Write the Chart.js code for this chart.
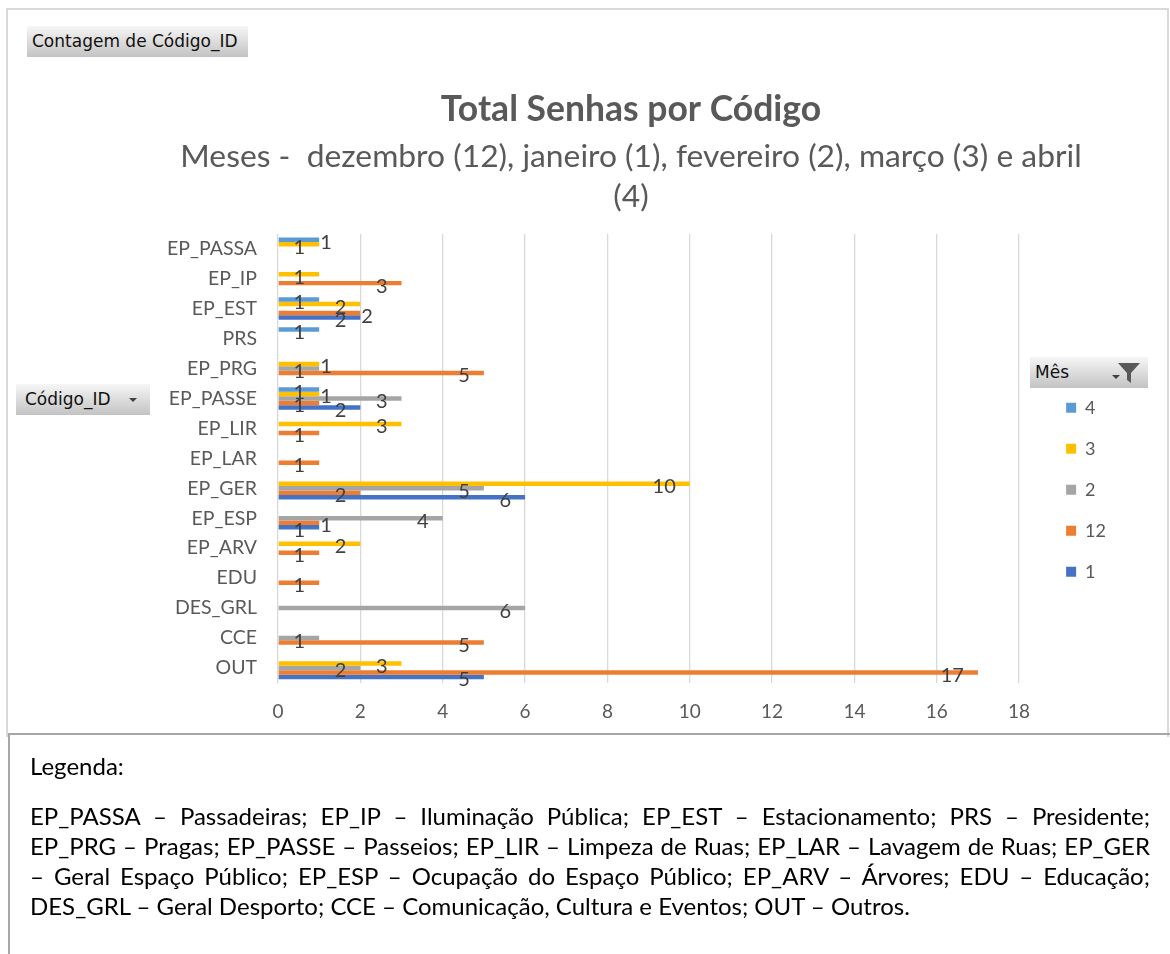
<!DOCTYPE html>
<html lang="pt">
<head>
<meta charset="utf-8">
<script src="https://cdn.jsdelivr.net/npm/chart.js@4.4.1/dist/chart.umd.min.js"></script>
<style>
  body { margin: 0; background: #fff; }
  #pagina { position: relative; width: 1170px; height: 954px; overflow: hidden; background: #fff; }
  #moldura { position: absolute; left: 6px; top: 8px; width: 1159px; height: 727px; border: 2px solid #d9d9d9; border-bottom: none; }
  #caixaGrafico { position: absolute; left: 8px; top: 8px; width: 1160px; height: 727px; }
  .botao {
    position: absolute; height: 31px; box-sizing: border-box;
    background: linear-gradient(to bottom, #f6f6f6, #c3c3c3);
    font-family: "DejaVu Sans", sans-serif; font-size: 17px; color: #111;
    line-height: 31px; padding-left: 5px; white-space: nowrap;
  }
  .seta { position: absolute; top: 14px; width: 0; height: 0; border-left: 4px solid transparent; border-right: 4px solid transparent; border-top: 4px solid #404040; }
  #notas {
    position: absolute; left: 8px; top: 733px; width: 1162px; height: 221px;
    border-top: 2px solid #a6a6a6; border-left: 2px solid #a6a6a6; box-sizing: border-box;
    font-family: Lato, sans-serif; font-size: 24px; color: #000;
  }
  #notas .tit { position: absolute; left: 20px; top: 16px; line-height: 30px; }
  #notas .par { position: absolute; left: 20px; top: 66px; width: 1120px; line-height: 30px; }
  #notas .lin { text-align: justify; text-align-last: justify; }
  #notas .ult { text-align: left; }
</style>
</head>
<body>
<div id="pagina">
  <div id="moldura"></div>
  <div id="caixaGrafico"><canvas id="grafico"></canvas></div>

  <div class="botao" style="left:27px; top:26px; width:221px;">Contagem de Código_ID</div>
  <div class="botao" style="left:16px; top:384px; width:134px; padding-left:9px;">Código_ID<span class="seta" style="left:113px;"></span></div>
  <div class="botao" style="left:1030px; top:357px; width:118px;">Mês<span class="seta" style="left:82px; top:18px;"></span>
    <svg style="position:absolute; left:88px; top:6px;" width="22" height="20" viewBox="0 0 22 20">
      <polygon points="0,0 22,0 13,10 13,20 9,17 9,10" fill="#595959"/>
    </svg>
  </div>

  <div id="notas">
    <div class="tit">Legenda:</div>
    <div class="par">
      <div class="lin">EP_PASSA – Passadeiras; EP_IP – Iluminação Pública; EP_EST – Estacionamento; PRS – Presidente;</div>
      <div class="lin">EP_PRG – Pragas; EP_PASSE – Passeios; EP_LIR – Limpeza de Ruas; EP_LAR – Lavagem de Ruas; EP_GER</div>
      <div class="lin">– Geral Espaço Público; EP_ESP – Ocupação do Espaço Público; EP_ARV – Árvores; EDU – Educação;</div>
      <div class="ult">DES_GRL – Geral Desporto; CCE – Comunicação, Cultura e Eventos; OUT – Outros.</div>
    </div>
  </div>
</div>

<script>
// categorias (de cima para baixo, como no gráfico)
const codigos = ['EP_PASSA', 'EP_IP', 'EP_EST', 'PRS', 'EP_PRG', 'EP_PASSE', 'EP_LIR', 'EP_LAR',
  'EP_GER', 'EP_ESP', 'EP_ARV', 'EDU', 'DES_GRL', 'CCE', 'OUT'];

// séries por mês (null = sem registos)
const meses = ['4', '3', '2', '12', '1'];
const mes4  = [1, null, 1, 1, null, 1, null, null, null, null, null, null, null, null, null];
const mes3  = [1, 1, 2, null, 1, 1, 3, null, 10, null, 2, null, null, null, 3];
const mes2  = [null, null, null, null, 1, 3, null, null, 5, 4, null, null, 6, 1, 2];
const mes12 = [null, 3, 2, null, 5, 1, 1, 1, 2, 1, 1, 1, null, 5, 17];
const mes1  = [null, null, 2, null, null, 2, null, null, 6, 1, null, null, null, null, 5];
const valores = [mes4, mes3, mes2, mes12, mes1];

const cores = ['#5B9BD5', '#FFC000', '#A5A5A5', '#ED7D31', '#4472C4'];

const eixoMax = 18;
const eixoPasso = 2;

const titulo = 'Total Senhas por Código';
const subtitulo = ['Meses -  dezembro (12), janeiro (1), fevereiro (2), março (3) e abril', '(4)'];

// rótulos de valor, estilo Excel (interior do fim), afastando os que se sobrepõem
const rotulos = {
  id: 'rotulos',
  afterDatasetsDraw(chart) {
    const ctx = chart.ctx;
    ctx.save();
    ctx.font = '20px Lato';
    ctx.fillStyle = '#404040';
    ctx.textBaseline = 'middle';
    ctx.textAlign = 'left';
    const ocupados = codigos.map(() => []);
    for (let d = chart.data.datasets.length - 1; d >= 0; d--) {
      const meta = chart.getDatasetMeta(d);
      meta.data.forEach((barra, i) => {
        const v = chart.data.datasets[d].data[i];
        if (v == null) return;
        const txt = String(v);
        const w = ctx.measureText(txt).width;
        const y = barra.y + 3;
        let x0 = barra.x - 14 - w;
        const bate = (a) => ocupados[i].some(b => Math.abs(b.y - y) < 12 && a < b.x1 && a + w > b.x0);
        if (bate(x0)) x0 = barra.x + 1;
        ocupados[i].push({ x0: x0, x1: x0 + w, y: y });
        ctx.fillText(txt, x0, y);
      });
    }
    ctx.restore();
  }
};

const ctx = document.getElementById('grafico').getContext('2d');
new Chart(ctx, {
  type: 'bar',
  data: {
    labels: codigos,
    datasets: meses.map((m, k) => ({
      label: m,
      data: valores[k],
      backgroundColor: cores[k],
      borderWidth: 0
    }))
  },
  options: {
    indexAxis: 'y',
    responsive: true,
    maintainAspectRatio: false,
    animation: false,
    layout: { padding: { left: 138, right: 52, top: 0, bottom: 12 } },
    datasets: { bar: { categoryPercentage: 0.75, barPercentage: 1 } },
    scales: {
      x: {
        min: 0,
        max: eixoMax,
        ticks: { stepSize: eixoPasso, padding: 17.6, color: '#595959', font: { family: 'Lato', size: 19 } },
        grid: { color: '#d9d9d9', lineWidth: 1.3, drawTicks: false },
        border: { display: false },
        afterFit(s) { s.height = 40; }
      },
      y: {
        grid: { display: false, drawTicks: false },
        border: { display: false },
        ticks: { padding: 21, color: '#595959', font: { family: 'Lato', size: 19.5 } },
        afterFit(s) { s.width = 132; }
      },
      folga: {
        type: 'linear',
        position: 'right',
        grid: { display: false, drawTicks: false },
        ticks: { display: false },
        border: { display: false },
        afterFit(s) { s.width = 24; }
      }
    },
    plugins: {
      title: {
        display: true,
        text: titulo,
        color: '#595959',
        font: { family: 'Lato', size: 35.5, weight: 'bold' },
        padding: { top: 80.7, bottom: 0 }
      },
      subtitle: {
        display: true,
        text: subtitulo,
        color: '#595959',
        font: { family: 'Lato', size: 31.8, lineHeight: 40 / 31.8 },
        padding: { top: 5.7, bottom: 16.7 }
      },
      legend: {
        position: 'right',
        align: 'center',
        fullSize: false,
        title: { display: true, text: '', font: { size: 12 }, padding: { top: 48.6, bottom: 0 } },
        labels: {
          boxWidth: 10,
          boxHeight: 10,
          padding: 23,
          color: '#595959',
          font: { family: 'Lato', size: 18 }
        }
      },
      tooltip: { enabled: false }
    }
  },
  plugins: [rotulos]
});
</script>
</body>
</html>
